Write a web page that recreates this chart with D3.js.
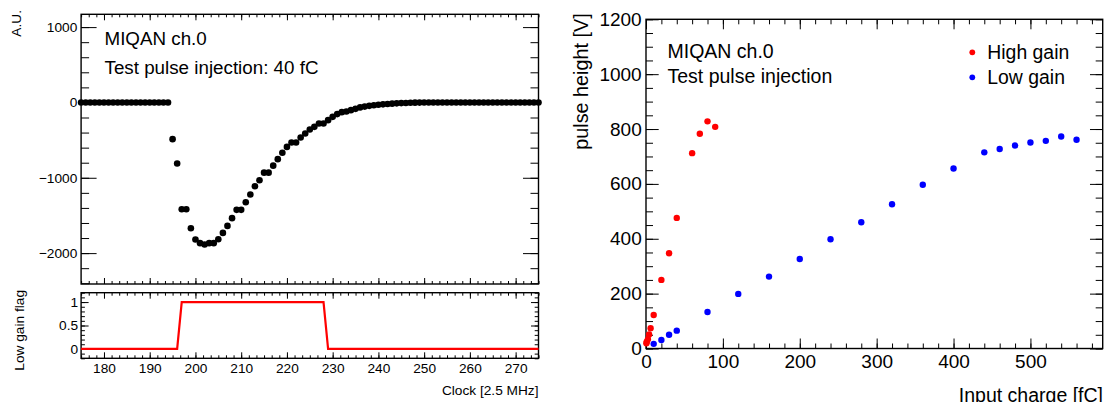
<!DOCTYPE html>
<html>
<head>
<meta charset="utf-8">
<script src="https://cdn.jsdelivr.net/npm/d3@7"></script>
<style>
  body { margin: 0; background: #fff; }
  svg { display: block; font-family: "Liberation Sans", Arial, Helvetica, sans-serif; }
</style>
</head>
<body>
<svg id="chart" width="1106" height="402"></svg>
<script>
// ---- left: waveform of one test pulse (40 fC), one sample per clock
const clocks = d3.range(175, 276);
const pulseValues = [
  0, 0, 0, 0, 0, 0, 0, 0, 0, 0, 0, 0, 0, 0, 0, 0, 0, 0, 0, 0,
  -487, -810, -1417, -1417, -1669, -1819, -1868, -1886, -1868, -1868,
  -1815, -1732, -1639, -1536, -1426, -1426, -1324, -1222, -1112, -1032,
  -932, -932, -839, -753, -667, -590, -531, -531, -465, -412,
  -359, -324, -279, -279, -235, -191, -155, -129, -120, -102,
  -85, -66, -55, -45, -38, -30, -25, -20, -16, -12,
  -9, -7, -5, -3, -2,
  -1, -1, 0, 0, 0, 0, 0, 0, 0, 0, 0, 0, 0, 0, 0, 0, 0, 0, 0, 0, 0, 0, 0, 0, 0, 0
];
const flagValues = [
  0, 0, 0, 0, 0, 0, 0, 0, 0, 0, 0, 0, 0, 0, 0, 0, 0, 0, 0, 0, 0, 0,
  1, 1, 1, 1, 1, 1, 1, 1, 1, 1, 1, 1, 1, 1, 1, 1, 1, 1, 1, 1, 1, 1, 1, 1, 1, 1, 1, 1, 1, 1, 1, 1,
  0, 0, 0, 0, 0, 0, 0, 0, 0, 0, 0, 0, 0, 0, 0, 0, 0, 0, 0, 0, 0, 0, 0, 0,
  0, 0, 0, 0, 0, 0, 0, 0, 0, 0, 0, 0, 0, 0, 0, 0, 0, 0, 0, 0, 0, 0, 0
];
const clockTicks = [180, 190, 200, 210, 220, 230, 240, 250, 260, 270];
const auTicks = [-2000, -1000, 0, 1000];
const flagTicks = [0, 0.5, 1];

// ---- right: pulse height vs injected charge
const highGainCharge = [0.5, 1, 2.5, 4, 6, 10, 20, 30, 40, 60, 70, 80, 90];
const highGainHeight = [19, 25, 34, 51, 74, 122, 250, 347, 476, 712, 783, 828, 808];
const lowGainCharge = [10, 20, 30, 40, 80, 120, 160, 200, 240, 280, 320, 360, 400, 440, 460, 480, 500, 520, 540, 560];
const lowGainHeight = [17, 31, 50, 65, 133, 199, 262, 326, 398, 460, 526, 597, 656, 715, 727, 740, 751, 757, 773, 761];
const chargeTicks = [0, 100, 200, 300, 400, 500];
const heightTicks = [0, 200, 400, 600, 800, 1000, 1200];

const svg = d3.select("#chart");

// inward ticks on all four sides, ROOT style
function frameTicks(g, x, y, xMajor, xMinor, yMajor, yMinor, xLen, yLen) {
  const [x0, x1] = x.range();
  const [y0, y1] = y.range();
  const put = (axis, tx, ty, values, size) => {
    g.append("g")
      .attr("transform", `translate(${tx},${ty})`)
      .call(axis.tickValues(values).tickSize(size).tickFormat(""))
      .call((s) => s.select(".domain").remove())
      .selectAll("line")
      .attr("stroke", "#000")
      .attr("stroke-width", 1);
  };
  put(d3.axisBottom(x), 0, y0, xMajor, -xLen[0]);
  put(d3.axisBottom(x), 0, y0, xMinor, -xLen[1]);
  put(d3.axisTop(x), 0, y1, xMajor, -xLen[0]);
  put(d3.axisTop(x), 0, y1, xMinor, -xLen[1]);
  put(d3.axisLeft(y), x0, 0, yMajor, -yLen[0]);
  put(d3.axisLeft(y), x0, 0, yMinor, -yLen[1]);
  put(d3.axisRight(y), x1, 0, yMajor, -yLen[0]);
  put(d3.axisRight(y), x1, 0, yMinor, -yLen[1]);

  g.append("rect")
    .attr("x", x0)
    .attr("y", y1)
    .attr("width", x1 - x0)
    .attr("height", y0 - y1)
    .attr("fill", "none")
    .attr("stroke", "#000")
    .attr("stroke-width", 1.4);
}

function tickLabels(g, axis, tx, ty, values, pad, size, fmt) {
  g.append("g")
    .attr("transform", `translate(${tx},${ty})`)
    .call(axis.tickValues(values).tickSize(0).tickPadding(pad).tickFormat(fmt))
    .call((s) => s.select(".domain").remove())
    .selectAll("text")
    .attr("fill", "#000")
    .style("font-family", "Liberation Sans, Arial, sans-serif")
    .style("font-size", size + "px");
}

// ---------- left top: pulse
const xClock = d3.scaleLinear().domain([175, 275]).range([81.1, 538.5]);
const yAU = d3.scaleLinear().domain([-2410, 1170]).range([284, 14.3]);
const clockMinor = d3.range(0, 61).map((i) => 175 + (i * 10) / 6);

const pulsePanel = svg.append("g");
frameTicks(pulsePanel, xClock, yAU, clockTicks, clockMinor,
  auTicks, d3.range(-2400, 1200, 200), [6, 3], [15.5, 8]);
tickLabels(pulsePanel, d3.axisLeft(yAU), 81.1, 0, auTicks, 3.8, 13.7, d3.format("d"));

pulsePanel.append("g")
  .selectAll("circle")
  .data(clocks)
  .join("circle")
  .attr("cx", (d) => xClock(d))
  .attr("cy", (d, i) => yAU(pulseValues[i]))
  .attr("r", 3.3)
  .attr("fill", "#000");

pulsePanel.append("text")
  .attr("x", 104.5).attr("y", 45)
  .style("font-size", "18.8px")
  .text("MIQAN ch.0");
pulsePanel.append("text")
  .attr("x", 104.5).attr("y", 74)
  .style("font-size", "18.8px")
  .text("Test pulse injection: 40 fC");
pulsePanel.append("text")
  .attr("transform", "translate(21,10) rotate(-90)")
  .attr("text-anchor", "end")
  .style("font-size", "13.7px")
  .text("A.U.");

// ---------- left bottom: low gain flag
const yFlag = d3.scaleLinear().domain([-0.2, 1.2]).range([358.3, 292.7]);
const flagPanel = svg.append("g");
frameTicks(flagPanel, xClock, yFlag, clockTicks, clockMinor,
  flagTicks, d3.range(-0.2, 1.21, 0.1).map((v) => +v.toFixed(2)), [6, 3], [7.5, 3.8]);
tickLabels(flagPanel, d3.axisLeft(yFlag), 81.1, 0, flagTicks, 3, 13.7, d3.format("~g"));
tickLabels(flagPanel, d3.axisBottom(xClock), 0, 358.3, clockTicks, 4.5, 13.7, d3.format("d"));

flagPanel.append("path")
  .datum(clocks)
  .attr("fill", "none")
  .attr("stroke", "#ff0000")
  .attr("stroke-width", 2.2)
  .attr("d", d3.line()
    .x((d) => xClock(d))
    .y((d, i) => yFlag(flagValues[i])));

flagPanel.append("text")
  .attr("transform", "translate(23.5,290) rotate(-90)")
  .attr("text-anchor", "end")
  .style("font-size", "13.7px")
  .text("Low gain flag");
flagPanel.append("text")
  .attr("x", 538.5).attr("y", 394.5)
  .attr("text-anchor", "end")
  .style("font-size", "13.7px")
  .text("Clock [2.5 MHz]");

// ---------- right: linearity
const xQ = d3.scaleLinear().domain([0, 594]).range([646, 1102.7]);
const yH = d3.scaleLinear().domain([0, 1200]).range([348.5, 19.3]);
const gainPanel = svg.append("g");
frameTicks(gainPanel, xQ, yH, chargeTicks, d3.range(0, 594, 20),
  heightTicks, d3.range(0, 1201, 50), [10, 5], [12.7, 7]);
tickLabels(gainPanel, d3.axisLeft(yH), 646, 0, heightTicks, 4.3, 19, d3.format("d"));
tickLabels(gainPanel, d3.axisBottom(xQ), 0, 348.5, chargeTicks, 5.8, 19, d3.format("d"));

gainPanel.append("g")
  .selectAll("circle")
  .data(lowGainCharge)
  .join("circle")
  .attr("cx", (d) => xQ(d))
  .attr("cy", (d, i) => yH(lowGainHeight[i]))
  .attr("r", 3.2)
  .attr("fill", "#0000ff");

gainPanel.append("g")
  .selectAll("circle")
  .data(highGainCharge)
  .join("circle")
  .attr("cx", (d) => xQ(d))
  .attr("cy", (d, i) => yH(highGainHeight[i]))
  .attr("r", 3.2)
  .attr("fill", "#ff0000");

gainPanel.append("text")
  .attr("x", 667.5).attr("y", 57.5)
  .style("font-size", "19.5px")
  .text("MIQAN ch.0");
gainPanel.append("text")
  .attr("x", 667.5).attr("y", 82.5)
  .style("font-size", "19.5px")
  .text("Test pulse injection");

const legendItems = [
  { label: "High gain", color: "#ff0000" },
  { label: "Low gain", color: "#0000ff" },
];
const legend = gainPanel.selectAll(".legend")
  .data(legendItems)
  .join("g")
  .attr("class", "legend")
  .attr("transform", (d, i) => `translate(972.3,${52.3 + i * 25})`);
legend.append("circle")
  .attr("r", 2.9)
  .attr("fill", (d) => d.color);
legend.append("text")
  .attr("x", 15)
  .attr("y", 6.3)
  .style("font-size", "19.4px")
  .text((d) => d.label);

gainPanel.append("text")
  .attr("transform", "translate(587.5,13.3) rotate(-90)")
  .attr("text-anchor", "end")
  .style("font-size", "19.8px")
  .text("pulse height [V]");
gainPanel.append("text")
  .attr("x", 1103).attr("y", 402)
  .attr("text-anchor", "end")
  .style("font-size", "19.5px")
  .text("Input charge [fC]");
</script>
</body>
</html>
